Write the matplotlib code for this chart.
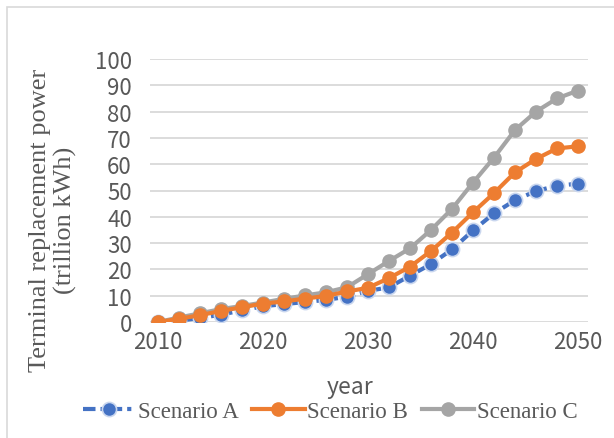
import matplotlib
matplotlib.use("Agg")
import matplotlib.pyplot as plt
from matplotlib.patches import Rectangle

years = list(range(2010, 2051, 2))
scenario_a = [0, 0.5, 1.5, 2.8, 4.4, 6.0, 6.8, 7.6, 8.4, 9.6, 11.8, 13.2, 17.6, 22.0, 27.6, 34.8, 41.3, 46.3, 49.8, 51.8, 52.6]
scenario_b = [0, 1.2, 2.6, 4.2, 5.6, 7.0, 7.8, 8.9, 9.9, 11.6, 13.0, 16.7, 21.0, 27.0, 34.0, 41.7, 49.0, 56.9, 62.0, 66.0, 66.8]
scenario_c = [0, 1.7, 3.3, 4.9, 6.1, 7.4, 8.8, 10.1, 11.3, 13.2, 18.2, 23.2, 28.0, 35.0, 43.0, 53.0, 62.5, 73.0, 80.0, 85.0, 88.0]
series_names = ["Scenario A", "Scenario B", "Scenario C"]
x_ticks = [2010, 2020, 2030, 2040, 2050]
y_ticks = list(range(0, 101, 10))

W, H = 614, 439
fig = plt.figure(figsize=(W / 100, H / 100), dpi=100)

def fx(px):
    return px / W

def fy(py):
    return 1 - py / H

# outer chart border (top and left visible)
fig.patches.append(Rectangle((fx(7), fy(460)), fx(620), fy(8) - fy(460),
                             transform=fig.transFigure, fill=False,
                             edgecolor="#D9D9D9", lw=1.2))

ax = fig.add_axes([fx(150), fy(323), fx(588) - fx(150), fy(60) - fy(323)])
ax.set_xlim(2010 - 8 / 10.5, 2050 + 10 / 10.5)
ax.set_ylim(0, 100)

grey = "#595959"
sans = ["Noto Sans CJK SC", "DejaVu Sans"]
ax.set_yticks(y_ticks)
ax.set_xticks(x_ticks)
ax.grid(axis="y", color="#D9D9D9", lw=1.3)
ax.set_axisbelow(True)
for s in ax.spines.values():
    s.set_visible(False)
ax.tick_params(length=0, colors=grey, labelsize=16)
ax.tick_params(axis="y", pad=13)
ax.tick_params(axis="x", pad=6)
for lab in ax.get_xticklabels() + ax.get_yticklabels():
    lab.set_family(sans)

ax.plot(years, scenario_c, color="#A5A5A5", lw=3, marker="o", ms=9.5,
        label=series_names[2], zorder=3)
ax.plot(years, scenario_b, color="#ED7D31", lw=3, marker="o", ms=9.5,
        label=series_names[1], zorder=4)
ax.plot(years, scenario_a, color="#4472C4", lw=3, marker="o", ms=10.2,
        markeredgecolor="#C9D6EE", mew=1.2, dashes=[3, 1.2, 1, 1.2],
        label=series_names[0], zorder=2)

# legend in order A, B, C
handles, labels = ax.get_legend_handles_labels()
order = [2, 1, 0]
leg = fig.legend([handles[i] for i in order], [labels[i] for i in order],
                 loc="center", bbox_to_anchor=(fx(330), fy(412)), ncol=3,
                 frameon=False, handlelength=2.3, handletextpad=0.1,
                 columnspacing=0.6, prop={"family": "Liberation Serif", "size": 16.5})
for t in leg.get_texts():
    t.set_color(grey)

fig.text(fx(350), fy(388), "year", ha="center", va="center", color=grey,
         fontsize=16.5, family=sans)

fig.text(fx(53), fy(220), "Terminal replacement power\n(trillion kWh)",
         rotation=90, ha="center", va="center", color=grey,
         fontsize=19, family="Liberation Serif", linespacing=1.2)

fig.savefig("out.png", dpi=100)
